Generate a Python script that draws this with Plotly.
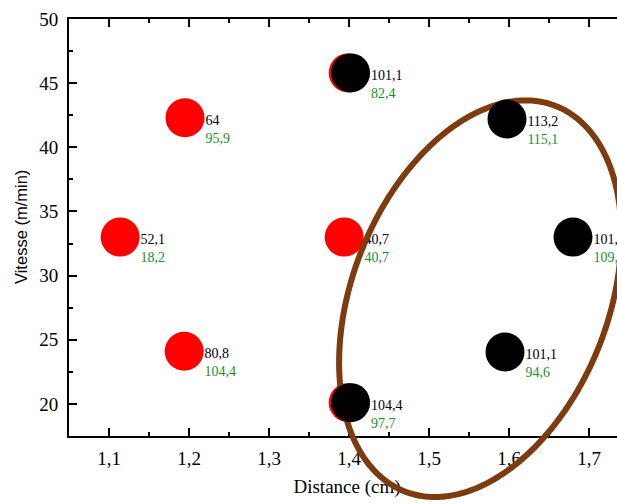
import numpy as np
import plotly.graph_objects as go

# ---------------- data ----------------
red_x = [1.114, 1.195, 1.194, 1.394, 1.399, 1.399]
red_y = [33.0, 42.3, 24.1, 33.0, 45.8, 20.1]
red_top = ["52,1", "64", "80,8", "40,7", "", ""]
red_bottom = ["18,2", "95,9", "104,4", "40,7", "", ""]

black_x = [1.402, 1.5975, 1.680, 1.595, 1.402]
black_y = [45.8, 42.2, 33.0, 24.05, 20.1]
black_top = ["101,1", "113,2", "101,2", "101,1", "104,4"]
black_bottom = ["82,4", "115,1", "109,7", "94,6", "97,7"]

x_ticks = [1.1, 1.2, 1.3, 1.4, 1.5, 1.6, 1.7]
y_ticks = [20, 25, 30, 35, 40, 45, 50]

# highlighted group (ellipse): centre in data units, semi-axes in px, tilt in degrees
ell_center = (1.564, 28.2)
ell_axes_px = (207, 128)
ell_angle = 68.6

# ---------------- layout geometry ----------------
W, H = 617, 504
PL, PR, PT, PB = 69, 617, 19, 436
X_RANGE = [1.05, 1.735]
Y_RANGE = [17.5, 50]
px_x = (PR - PL) / (X_RANGE[1] - X_RANGE[0])
px_y = (PB - PT) / (Y_RANGE[1] - Y_RANGE[0])

SERIF = "Liberation Serif, Times New Roman, serif"
SANS = "Liberation Sans, Arial, sans-serif"
GREEN = "#1E8F1E"
BROWN = "#7D3C0F"
LABEL_SIZE = 14

fig = go.Figure()

# red points (bottom layer)
fig.add_trace(go.Scatter(x=red_x, y=red_y, mode="markers",
                         marker=dict(size=39, color="#FF0000", line=dict(width=0)),
                         xaxis="x", yaxis="y", hoverinfo="skip", showlegend=False))

# labels (on main axes, beneath ellipse and black points)
lab_x = red_x + black_x
lab_y = red_y + black_y
top = red_top + black_top
bottom = red_bottom + black_bottom
fig.add_trace(go.Scatter(x=lab_x, y=[v - 3.5 / px_y for v in lab_y], mode="markers+text",
                         text=top, textposition="middle right",
                         textfont=dict(family=SERIF, size=LABEL_SIZE, color="#000000"),
                         marker=dict(size=31, color="rgba(0,0,0,0)"),
                         cliponaxis=False, xaxis="x", yaxis="y",
                         hoverinfo="skip", showlegend=False))
fig.add_trace(go.Scatter(x=lab_x, y=[v - 21.5 / px_y for v in lab_y], mode="markers+text",
                         text=bottom, textposition="middle right",
                         textfont=dict(family=SERIF, size=LABEL_SIZE, color=GREEN),
                         marker=dict(size=31, color="rgba(0,0,0,0)"),
                         cliponaxis=False, xaxis="x", yaxis="y",
                         hoverinfo="skip", showlegend=False))

# overlay in pixel space: x-axis title + ellipse
fig.add_trace(go.Scatter(x=[347], y=[488], mode="text", text=["Distance (cm)"],
                         textposition="middle center",
                         textfont=dict(family=SERIF, size=19, color="#000000"),
                         xaxis="x2", yaxis="y2", hoverinfo="skip", showlegend=False))
cx = PL + (ell_center[0] - X_RANGE[0]) * px_x
cy = PT + (Y_RANGE[1] - ell_center[1]) * px_y
t = np.linspace(0, 2 * np.pi, 721)
th = np.deg2rad(ell_angle)
a, b = ell_axes_px
ex = cx + a * np.cos(t) * np.cos(th) - b * np.sin(t) * np.sin(th)
ey = cy - (a * np.cos(t) * np.sin(th) + b * np.sin(t) * np.cos(th))
fig.add_trace(go.Scatter(x=ex, y=ey, mode="lines",
                         line=dict(color=BROWN, width=6, simplify=False),
                         xaxis="x2", yaxis="y2", hoverinfo="skip", showlegend=False))

# black points on top
fig.add_trace(go.Scatter(x=black_x, y=black_y, mode="markers",
                         marker=dict(size=39, color="#000000", line=dict(width=0)),
                         xaxis="x3", yaxis="y3", hoverinfo="skip", showlegend=False))

xdom = [PL / W, PR / W]
ydom = [(H - PB) / H, (H - PT) / H]

fig.update_layout(
    width=W, height=H, autosize=False,
    margin=dict(l=0, r=0, t=0, b=0, pad=0),
    paper_bgcolor="white", plot_bgcolor="rgba(0,0,0,0)",
    separators=",.",
    showlegend=False,
    hovermode=False,
    xaxis=dict(domain=xdom, range=X_RANGE, tickvals=x_ticks, tickformat=".1f",
               ticks="inside", ticklen=8, tickwidth=2, tickcolor="black",
               showline=True, linewidth=2, linecolor="black", mirror="ticks",
               showgrid=False, zeroline=False, automargin=False,
               tickfont=dict(family=SERIF, size=19, color="black"),
               ticklabelstandoff=4,
               minor=dict(ticks="inside", dtick=0.05, tick0=1.05, ticklen=4,
                          tickwidth=2, tickcolor="black", showgrid=False)),
    yaxis=dict(domain=ydom, range=Y_RANGE, tickvals=y_ticks,
               ticks="inside", ticklen=8, tickwidth=2, tickcolor="black",
               showline=True, linewidth=2, linecolor="black", mirror=False,
               showgrid=False, zeroline=False, automargin=False,
               tickfont=dict(family=SERIF, size=19, color="black"),
               ticklabelstandoff=5,
               minor=dict(ticks="inside", dtick=2.5, tick0=17.5, ticklen=4,
                          tickwidth=2, tickcolor="black", showgrid=False)),
    xaxis2=dict(domain=[0, 1], range=[0, W], visible=False, fixedrange=True),
    yaxis2=dict(domain=[0, 1], range=[H, 0], visible=False, fixedrange=True),
    xaxis3=dict(domain=xdom, range=X_RANGE, visible=False, fixedrange=True),
    yaxis3=dict(domain=ydom, range=Y_RANGE, visible=False, fixedrange=True),
    annotations=[dict(text="Vitesse (m/min)", textangle=-90, showarrow=False,
                      xref="paper", yref="paper", x=21 / W, y=(H - 227) / H,
                      xanchor="center", yanchor="middle",
                      font=dict(family=SANS, size=16.5, color="black"))],
)

fig.write_html(
    "out.html",
    config={"displayModeBar": False, "staticPlot": True},
    post_script="document.body.style.margin='0';document.body.style.overflow='hidden';",
)
